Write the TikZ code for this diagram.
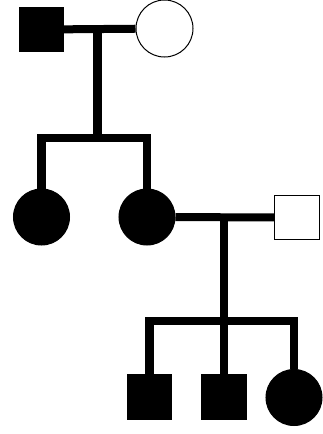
\documentclass[tikz,border=0pt]{standalone}
\begin{document}
\begin{tikzpicture}[x=0.03cm, y=-0.03cm,
        linea/.style={line width=0.24cm},
        maschio/.style={draw, line width=0.03cm, rectangle, minimum size=1.33cm, inner sep=0pt},
        femmina/.style={draw, line width=0.03cm, circle, minimum size=1.68cm, inner sep=0pt},
        malato/.style={fill=black}]
        \useasboundingbox (0,0) rectangle (322,434);

        % Prima generazione
        \node[maschio, malato] (nonno) at (41.5,29.5) {};
        \node[femmina, minimum size=1.71cm] (nonna) at (164.5,28.5) {};
        \draw[linea] (nonno) -- (nonna);
        \coordinate (matrimonio1) at (97.5,30);
        \coordinate (fratria1) at (97.5,137.5);

        % Seconda generazione
        \node[femmina, malato] (figlia1) at (41.5,217) {};
        \node[femmina, malato] (figlia2) at (147,217) {};
        \node[maschio, minimum size=1.32cm] (marito) at (297,217.5) {};
        \draw[linea] (matrimonio1) -- (fratria1);
        \draw[linea] (figlia1) |- (fratria1) -| (figlia2);
        \draw[linea] (figlia2) -- (marito);
        \coordinate (matrimonio2) at (224,217.5);
        \coordinate (fratria2) at (224,321);

        % Terza generazione
        \node[maschio, malato] (figlio1) at (149.5,397) {};
        \node[maschio, malato] (figlio2) at (224,397) {};
        \node[femmina, malato] (figlia3) at (294,397.5) {};
        \draw[linea] (matrimonio2) -- (fratria2);
        \draw[linea] (figlio1) |- (fratria2) -| (figlia3);
        \draw[linea] (figlio2) -- (fratria2);
    \end{tikzpicture}
\end{document}
